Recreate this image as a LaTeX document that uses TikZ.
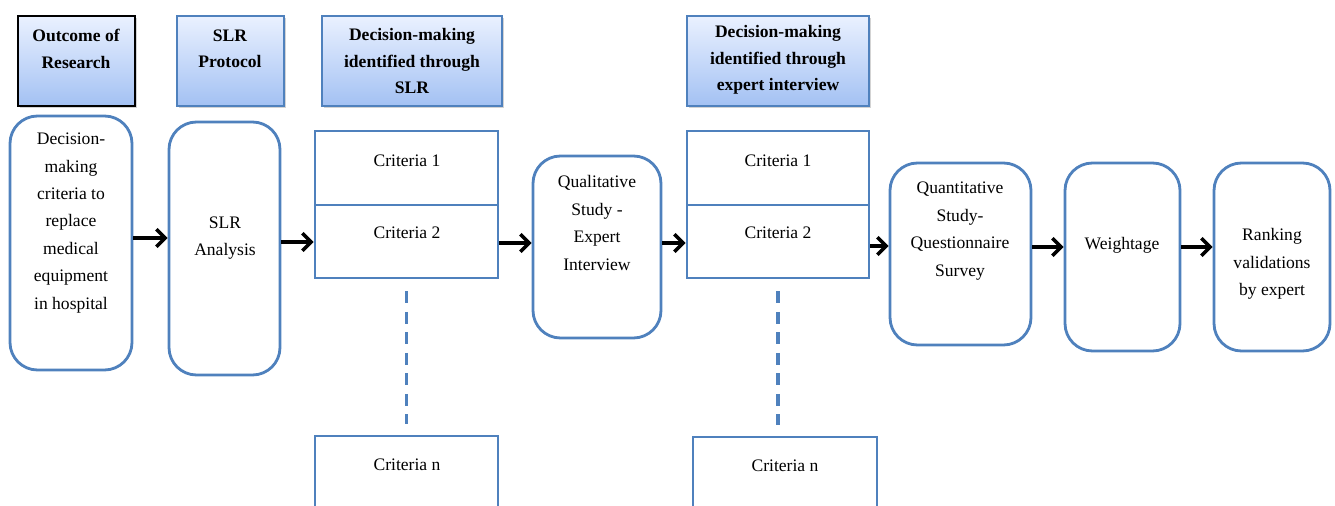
\documentclass[tikz,border=0pt]{standalone}
\usepackage{fontspec}
\setmainfont{Liberation Serif}
\usetikzlibrary{arrows.meta,fit,shadows}

\definecolor{boxblue}{RGB}{79,129,189}
\definecolor{headtop}{RGB}{234,241,255}
\definecolor{headbot}{RGB}{163,193,243}

\tikzset{
  stepbox/.style={draw=boxblue, line width=1.6pt, rounded corners=0.55cm, fill=white, inner sep=0pt},
  critbox/.style={draw=boxblue, line width=1.6pt, fill=white, inner sep=0pt},
  headbox/.style={draw=boxblue, line width=1pt, top color=headtop, bottom color=headbot, inner sep=0pt,
    drop shadow={opacity=0.35, shadow xshift=1.2pt, shadow yshift=-1.2pt}},
  headtxt/.style={font=\fontsize{10}{15}\selectfont\bfseries, align=center, inner sep=0pt},
  txt/.style={font=\fontsize{10}{15.6}\selectfont, align=center, inner sep=0pt},
  arr/.style={line width=2pt, -{Straight Barb[length=5pt,width=10pt]}},
  dots/.style={draw=boxblue, line width=1.8pt, dash pattern=on 0.24cm off 0.17cm}
}

\begin{document}
\begin{tikzpicture}[x=0.02cm, y=-0.02cm]
  \useasboundingbox (0,0) rectangle (1335,506);

  % --- Header boxes ---
  \node[headbox, draw=black, fit={(18,16) (135,106)}] (h1) {};
  \node[headtxt] (ht1) at (76,49) {Outcome of\\Research};
  \node[headbox, fit={(177,16) (284,106)}] (h2) {};
  \node[headtxt] (ht2) at (230,49) {SLR\\Protocol};
  \node[headbox, fit={(322,16) (502,106)}] (h3) {};
  \node[headtxt] (ht3) at (412,61) {Decision-making\\identified through\\SLR};
  \node[headbox, fit={(687,16) (869,106)}] (h4) {};
  \node[headtxt] (ht4) at (778,60) {Decision-making\\identified through\\expert interview};

  % --- Outcome and SLR analysis ---
  \node[stepbox, fit={(10,116) (132,370)}] (s1) {};
  \node[txt] (t1) at (71,223) {Decision-\\making\\criteria to\\replace\\medical\\equipment\\in hospital};
  \node[stepbox, fit={(169,122) (280,375)}] (s2) {};
  \node[txt] (t2) at (225,238) {SLR\\Analysis};

  % --- Criteria from SLR ---
  \node[critbox, fit={(315,131) (498,205)}] (c1a) {};
  \node[critbox, fit={(315,205) (498,278)}] (c2a) {};
  \node[critbox, fit={(315,436) (498,530)}] (cna) {};
  \node[txt] (k1a) at (407,161) {Criteria 1};
  \node[txt] (k2a) at (407,233) {Criteria 2};
  \node[txt] (kna) at (407,465) {Criteria n};
  \draw[dots, shorten <=0.24cm, shorten >=0.22cm] (c2a) -- (cna);

  % --- Qualitative study ---
  \node[stepbox, fit={(533,156) (661,338)}] (s3) {};
  \node[txt] (t3) at (597,223) {Qualitative\\Study -\\Expert\\Interview};

  % --- Criteria from expert interview ---
  \node[critbox, fit={(687,131) (869,205)}] (c1b) {};
  \node[critbox, fit={(687,205) (869,278)}] (c2b) {};
  \node[critbox, fit={(693,437) (877,530)}] (cnb) {};
  \node[txt] (k1b) at (778,161) {Criteria 1};
  \node[txt] (k2b) at (778,233) {Criteria 2};
  \node[txt] (knb) at (785,466) {Criteria n};
  \draw[dots, shorten <=0.24cm, shorten >=0.22cm] (c2b) -- (c2b |- cnb.north);

  % --- Quantitative study, weightage, ranking ---
  \node[stepbox, fit={(890,163) (1031,345)}] (s4) {};
  \node[txt] (t4) at (960,231) {Quantitative\\Study-\\Questionnaire\\Survey};
  \node[stepbox, fit={(1065,163) (1180,351)}] (s5) {};
  \node[txt] (t5) at (1122,245) {Weightage};
  \node[stepbox, fit={(1214,163) (1330,351)}] (s6) {};
  \node[txt] (t6) at (1272,264) {Ranking\\validations\\by expert};

  % --- Arrows ---
  \draw[arr] (s1.east |- 0,238) -- (s2.west |- 0,238);
  \draw[arr] (s2.east |- 0,242) -- (c2a.west |- 0,242);
  \draw[arr] (c2a.east |- 0,243) -- (s3.west |- 0,243);
  \draw[arr] (s3.east |- 0,243) -- (c2b.west |- 0,243);
  \draw[arr] (c2b.east |- 0,246) -- (s4.west |- 0,246);
  \draw[arr] (s4.east |- 0,247) -- (s5.west |- 0,247);
  \draw[arr] (s5.east |- 0,247) -- (s6.west |- 0,247);
\end{tikzpicture}
\end{document}
